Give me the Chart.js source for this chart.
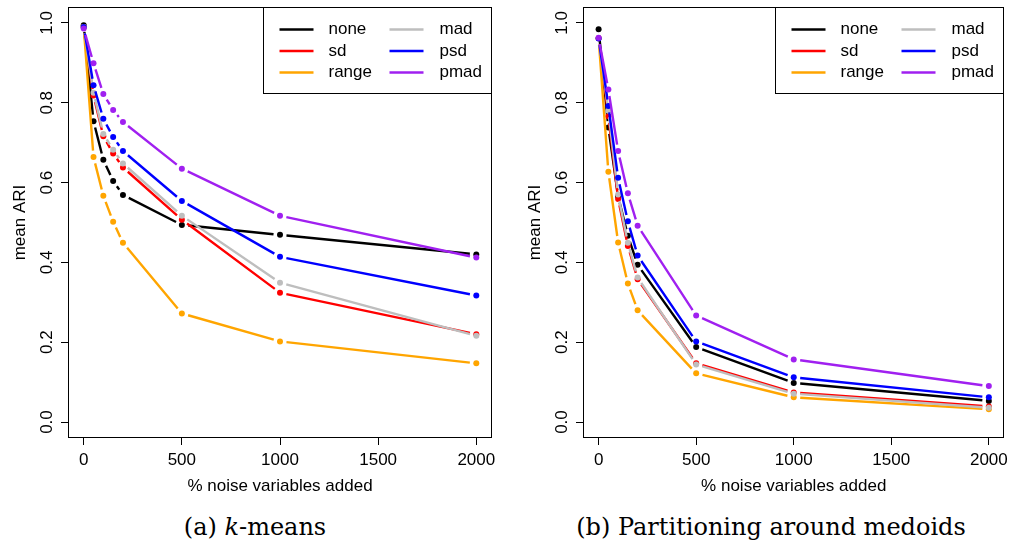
<!DOCTYPE html>
<html>
<head>
<meta charset="utf-8">
<script src="https://cdn.jsdelivr.net/npm/chart.js@4.4.1/dist/chart.umd.min.js"></script>
<style>
body { margin: 0; background: #fff; width: 1013px; height: 548px; overflow: hidden; position: relative; }
.panel { position: absolute; top: 0; }
.panel canvas { display: block; }
.cap { position: absolute; font-family: "DejaVu Serif"; font-size: 24px; line-height: 24px; white-space: nowrap; transform: translateX(-50%); color: #000; }
</style>
</head>
<body>
<div class="panel" style="left:0"><canvas id="km" width="506" height="505"></canvas></div>
<div class="panel" style="left:515px"><canvas id="pam" width="498" height="505"></canvas></div>
<div class="cap" style="left:255px;top:515px">(a) <i>k</i>-means</div>
<div class="cap" style="left:771px;top:515px">(b) Partitioning around medoids</div>
<script>
var noisePct = [0, 50, 100, 150, 200, 500, 1000, 2000];
var xTicks = [0, 500, 1000, 1500, 2000];
var yTicks = [0, 0.2, 0.4, 0.6, 0.8, 1.0];
var methods = ["none", "sd", "range", "mad", "psd", "pmad"];
var methodColors = ["#000000", "#FF0000", "#FFA500", "#BEBEBE", "#0000FF", "#A020F0"];

// (a) k-means
var kmNone  = [0.994, 0.754, 0.657, 0.604, 0.569, 0.494, 0.469, 0.420];
var kmSd    = [0.990, 0.818, 0.716, 0.673, 0.638, 0.507, 0.324, 0.220];
var kmRange = [0.990, 0.664, 0.567, 0.502, 0.449, 0.272, 0.202, 0.147];
var kmMad   = [0.990, 0.825, 0.722, 0.682, 0.648, 0.517, 0.349, 0.216];
var kmPsd   = [0.990, 0.844, 0.760, 0.714, 0.679, 0.554, 0.414, 0.317];
var kmPmad  = [0.986, 0.899, 0.822, 0.782, 0.752, 0.635, 0.517, 0.412];

// (b) partitioning around medoids
var pamNone  = [0.984, 0.738, 0.565, 0.467, 0.394, 0.188, 0.098, 0.053];
var pamSd    = [0.962, 0.766, 0.559, 0.441, 0.358, 0.147, 0.074, 0.039];
var pamRange = [0.962, 0.627, 0.450, 0.347, 0.280, 0.122, 0.062, 0.032];
var pamMad   = [0.962, 0.780, 0.570, 0.449, 0.362, 0.144, 0.071, 0.036];
var pamPsd   = [0.961, 0.792, 0.612, 0.503, 0.417, 0.202, 0.112, 0.062];
var pamPmad  = [0.963, 0.833, 0.679, 0.573, 0.492, 0.267, 0.157, 0.090];

var axisFont = { family: "Liberation Sans", size: 17 };

// lines like R type="b": segments stop short of each point
var gappedLines = {
  id: "gappedLines",
  beforeDatasetDraw: function (chart, args) {
    var ds = chart.data.datasets[args.index];
    var pts = args.meta.data;
    var ctx = chart.ctx;
    var gap = 6.5;
    ctx.save();
    ctx.strokeStyle = ds.borderColor;
    ctx.lineWidth = 2.4;
    ctx.beginPath();
    for (var i = 1; i < pts.length; i++) {
      var dx = pts[i].x - pts[i - 1].x, dy = pts[i].y - pts[i - 1].y;
      var len = Math.sqrt(dx * dx + dy * dy);
      if (len <= 2 * gap) continue;
      var ux = dx / len, uy = dy / len;
      ctx.moveTo(pts[i - 1].x + ux * gap, pts[i - 1].y + uy * gap);
      ctx.lineTo(pts[i].x - ux * gap, pts[i].y - uy * gap);
    }
    ctx.stroke();
    ctx.restore();
  }
};

// box, rotated y labels, y title and the legend
var rFrame = {
  id: "rFrame",
  afterDraw: function (chart) {
    var a = chart.chartArea, ctx = chart.ctx, ys = chart.scales.y;
    ctx.save();
    ctx.strokeStyle = "#000";
    ctx.lineWidth = 1;
    var l = Math.round(a.left) + 0.5, t = Math.round(a.top) + 0.5;
    var r = Math.round(a.right) - 0.5, b = Math.round(a.bottom) - 0.5;
    ctx.strokeRect(l, t, r - l, b - t);

    ctx.fillStyle = "#000";
    ctx.font = "17px 'Liberation Sans'";
    ctx.textAlign = "center";
    ctx.textBaseline = "alphabetic";
    yTicks.forEach(function (v) {
      ctx.save();
      ctx.translate(a.left - 16, ys.getPixelForValue(v));
      ctx.rotate(-Math.PI / 2);
      ctx.fillText(v.toFixed(1), 0, 0);
      ctx.restore();
    });
    ctx.save();
    ctx.translate(a.left - 43, (a.top + a.bottom) / 2);
    ctx.rotate(-Math.PI / 2);
    ctx.fillText("mean ARI", 0, 0);
    ctx.restore();

    // legend
    var lw = 229, lh = 86;
    var L = Math.round(a.right - lw) + 0.5, T = t;
    ctx.fillStyle = "#fff";
    ctx.fillRect(L, T, r - L, lh);
    ctx.strokeRect(L, T, r - L, lh);
    ctx.textAlign = "left";
    ctx.textBaseline = "middle";
    ctx.lineWidth = 2.4;
    methods.forEach(function (name, i) {
      var col = Math.floor(i / 3), row = i % 3;
      var y = T + 22 + row * 21.5;
      var x0 = L + 16 + col * 110;
      ctx.strokeStyle = methodColors[i];
      ctx.beginPath();
      ctx.moveTo(x0, y);
      ctx.lineTo(x0 + 34, y);
      ctx.stroke();
      ctx.fillStyle = "#000";
      ctx.fillText(name, L + 65 + col * 111, y);
    });
    ctx.restore();
  }
};

function makeChart(id, series, padRight) {
  return new Chart(document.getElementById(id), {
    type: "line",
    data: {
      datasets: series.map(function (vals, i) {
        return {
          label: methods[i],
          data: noisePct.map(function (x, j) { return { x: x, y: vals[j] }; }),
          borderColor: methodColors[i],
          backgroundColor: methodColors[i],
          showLine: false,
          pointRadius: 3,
          pointHoverRadius: 3,
          pointBorderWidth: 0,
          order: methods.length - i
        };
      })
    },
    options: {
      responsive: false,
      animation: false,
      events: [],
      layout: { padding: { left: 0, top: 7, right: padRight, bottom: 0 } },
      plugins: { legend: { display: false }, tooltip: { enabled: false } },
      scales: {
        x: {
          type: "linear",
          min: -80,
          max: 2080,
          afterBuildTicks: function (scale) {
            scale.ticks = xTicks.map(function (v) { return { value: v }; });
          },
          afterFit: function (scale) { scale.height = 67; },
          border: { display: false },
          grid: { drawOnChartArea: false, drawTicks: true, tickLength: 7, color: "#000", tickColor: "#000" },
          ticks: { autoSkip: false, maxRotation: 0, color: "#000", font: axisFont, padding: 5,
                   callback: function (v) { return String(v); } },
          title: { display: true, text: "% noise variables added", color: "#000", font: axisFont,
                   padding: { top: 0, bottom: 8 } }
        },
        y: {
          min: -0.04,
          max: 1.04,
          afterBuildTicks: function (scale) {
            scale.ticks = yTicks.map(function (v) { return { value: v }; });
          },
          afterFit: function (scale) { scale.width = 68; },
          border: { display: false },
          grid: { drawOnChartArea: false, drawTicks: true, tickLength: 7, color: "#000", tickColor: "#000" },
          ticks: { display: false }
        }
      }
    },
    plugins: [gappedLines, rFrame]
  });
}

makeChart("km", [kmNone, kmSd, kmRange, kmMad, kmPsd, kmPmad], 14);
makeChart("pam", [pamNone, pamSd, pamRange, pamMad, pamPsd, pamPmad], 7);
</script>
</body>
</html>
